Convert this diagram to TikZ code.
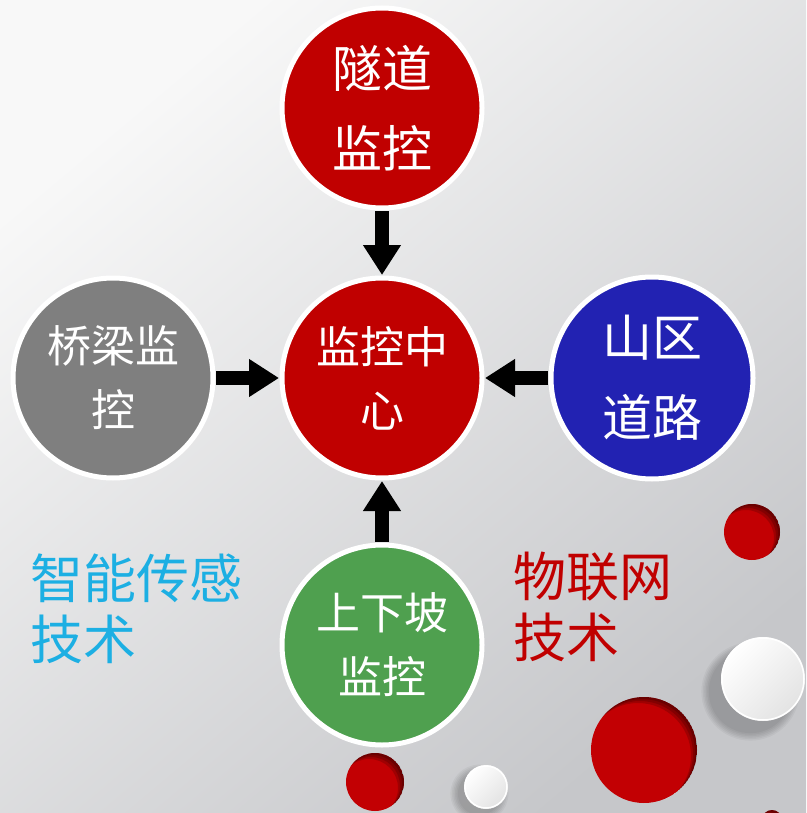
\documentclass[tikz,border=0pt]{standalone}
\usepackage{fontspec}
\newfontfamily\cjk{Noto Sans CJK SC}
\usetikzlibrary{arrows.meta}
\definecolor{bgtop}{HTML}{F8F8F8}
\definecolor{bgbot}{HTML}{C6C7CA}
\definecolor{mred}{HTML}{C00000}
\definecolor{mgray}{HTML}{7F7F7F}
\definecolor{mblue}{HTML}{2222B2}
\definecolor{mgreen}{HTML}{4FA04F}
\definecolor{mcyan}{HTML}{1CAFE3}
\definecolor{holered}{HTML}{C20003}
\tikzset{
  hub/.style={circle, draw=white, line width=5pt, minimum size=200pt, inner sep=0pt, outer sep=0pt,
    text=white, align=center, font=\cjk\fontsize{44}{64}\selectfont},
  bigtext/.style={font=\cjk\fontsize{50}{80}\selectfont},
  blockarrow/.style={line width=14pt, -{Triangle[length=30pt,width=36pt]}, shorten <=3pt, shorten >=3pt, black},
  sidetext/.style={align=left, anchor=north west, inner sep=0pt, font=\cjk\fontsize{53}{61}\selectfont}
}
\newcommand{\holeat}[3]{%
  \begin{scope}
    \clip (#1,#2) circle (#3);
    \fill[holered] (#1,#2) circle (#3);
    \fill[black, opacity=0.18, even odd rule] (#1,#2) circle (#3+12) (#1-2,#2+2) circle (#3);
    \fill[black, opacity=0.18, even odd rule] (#1,#2) circle (#3+12) (#1-4,#2+4) circle (#3);
    \fill[black, opacity=0.18, even odd rule] (#1,#2) circle (#3+12) (#1-6,#2+6) circle (#3);
  \end{scope}}
\newcommand{\discat}[3]{%
  \foreach \k in {1,...,6} {
    \fill[black, opacity=0.04] (#1-#3*0.3,#2+#3*0.3) circle ({#3-2+\k*1.5});
  }
  \shade[top color=white, bottom color=gray!22, shading angle=45] (#1,#2) circle (#3);
  \draw[white, line width=1.5pt] (#1,#2) circle (#3-1);
}
\begin{document}
\begin{tikzpicture}[x=1pt,y=-1pt]
\useasboundingbox (0,0) rectangle (806,813);
\shade[top color=bgtop, bottom color=bgbot, shading angle=40] (0,0) rectangle (806,813);

% decorative circles
\holeat{752}{532}{28}
\holeat{644}{750}{53}
\holeat{375}{782}{29}
\holeat{772}{820}{10}
\discat{763}{679}{42}
\discat{486}{787}{22}

% hubs
\node[hub, fill=mred, bigtext] (tunnel) at (382,108) {隧道\\监控};
\node[hub, fill=mred] (center) at (382,378) {监控中\\心};
\node[hub, fill=mgray] (bridge) at (113,378) {桥梁监\\控};
\node[hub, fill=mblue, bigtext, minimum size=202pt] (road) at (652,378) {山区\\道路};
\node[hub, fill=mgreen] (slope) at (382,645) {上下坡\\监控};

% arrows
\draw[blockarrow] (tunnel) -- (center);
\draw[blockarrow] (bridge) -- (center);
\draw[blockarrow] (road) -- (center);
\draw[blockarrow] (slope) -- (center);

% side labels
\node[sidetext, text=mcyan] (sensing) at (30,554) {智能传感\\技术};
\node[sidetext, text=mred] (iot) at (513,552) {物联网\\技术};
\end{tikzpicture}
\end{document}
